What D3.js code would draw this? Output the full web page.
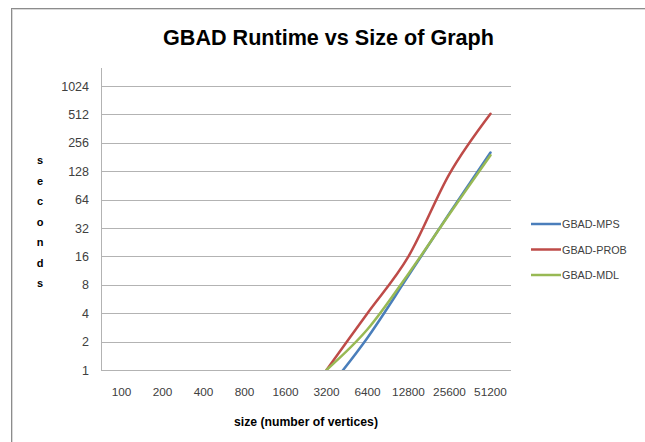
<!DOCTYPE html>
<html><head><meta charset="utf-8">
<script src="https://cdn.jsdelivr.net/npm/d3@7"></script>
<style>
body{margin:0;background:#fff;}
svg{display:block;font-family:"Liberation Sans",Arial,sans-serif;}
</style></head>
<body><svg id="chart" width="645" height="442"></svg>
<script>
const categories = ["100","200","400","800","1600","3200","6400","12800","25600","51200"];
const mps  = [null,null,null,null,null,0.6,2.2,10,46,202];
const prob = [null,null,null,null,null,1,4,16,120,520];
const mdl  = [null,null,null,null,null,1,2.7,10.5,45,189];
const yTicks = [1,2,4,8,16,32,64,128,256,512,1024];
const seriesNames = ["GBAD-MPS","GBAD-PROB","GBAD-MDL"];
const seriesColors = ["#4A7EBB","#BE4B48","#98B954"];
const yMax = 1590;

const svg = d3.select("#chart");
const W = 645, H = 442;
const m = {left:101, right:134, top:68, bottom:72};
const pw = W - m.left - m.right, ph = H - m.top - m.bottom;

// frame
svg.append("rect").attr("x",12.5).attr("y",9.5).attr("width",W).attr("height",H)
  .attr("fill","none").attr("stroke","#d9d9d9").attr("stroke-width",1);
svg.append("rect").attr("x",11.5).attr("y",8.5).attr("width",W).attr("height",H)
  .attr("fill","none").attr("stroke","#8c8c8c").attr("stroke-width",1);

const x = d3.scaleBand().domain(categories).range([0,pw]);
const y = d3.scaleLog().base(2).domain([1,yMax]).range([ph,0]);

const g = svg.append("g").attr("transform",`translate(${m.left},${m.top})`);

// gridlines
g.append("g").selectAll("line").data(yTicks).join("line")
  .attr("x1",0).attr("x2",pw)
  .attr("y1",d=>Math.round(y(d))+0.5).attr("y2",d=>Math.round(y(d))+0.5)
  .attr("stroke","#b3b3b3").attr("stroke-width",1);

// y axis
const yAxis = g.append("g").call(d3.axisLeft(y).tickValues(yTicks).tickFormat(d3.format("d")).tickSize(0).tickPadding(12));
yAxis.select(".domain").attr("stroke","#b3b3b3").attr("d",`M0.5,0V${ph}`);
yAxis.selectAll("text").attr("font-size","12.5px").attr("fill","#404040");

// x axis
const xAxis = g.append("g").attr("transform",`translate(0,${ph})`)
  .call(d3.axisBottom(x).tickSize(0).tickPadding(18));
xAxis.select(".domain").remove();
xAxis.selectAll("text").attr("font-size","11.8px").attr("fill","#404040");

// lines
const clip = svg.append("defs").append("clipPath").attr("id","pc")
  .append("rect").attr("x",0).attr("y",-5).attr("width",pw).attr("height",ph+5);
const line = d3.line()
  .defined(d=>d.v!=null)
  .x(d=>x(d.c)+x.bandwidth()/2)
  .y(d=>y(d.v))
  .curve(d3.curveCatmullRom.alpha(0));
const seriesData = [mps,prob,mdl];
const lg = g.append("g").attr("clip-path","url(#pc)");
[1,0,2].forEach(i=>{
  lg.append("path")
    .datum(categories.map((c,j)=>({c, v:seriesData[i][j]})))
    .attr("d",line).attr("fill","none")
    .attr("stroke",seriesColors[i]).attr("stroke-width",2.5)
    .attr("stroke-linecap","round").attr("stroke-linejoin","round");
});

// title
function fit(sel, target){
  const n = sel.node(); const fs = parseFloat(sel.attr("font-size"));
  const w = n.getComputedTextLength();
  sel.attr("font-size", (fs*target/w).toFixed(2)+"px");
}
const title = svg.append("text").attr("x",328.5).attr("y",45)
  .attr("text-anchor","middle").attr("font-weight","bold").attr("font-size","20px")
  .attr("fill","#000").text("GBAD Runtime vs Size of Graph");
fit(title, 331);

// x title
const xt = svg.append("text").attr("x",m.left+pw/2).attr("y",426)
  .attr("text-anchor","middle").attr("font-weight","bold").attr("font-size","11px")
  .attr("fill","#000").text("size (number of vertices)");
fit(xt, 144);

// y title (stacked letters)
const ytxt = "seconds".split("");
svg.append("g").selectAll("text").data(ytxt).join("text")
  .attr("x",40).attr("y",(d,i)=>164+i*20.5)
  .attr("text-anchor","middle").attr("font-weight","bold").attr("font-size","11px")
  .attr("fill","#000").text(d=>d);

// legend
const leg = svg.append("g");
seriesNames.forEach((n,i)=>{
  const yy = 224 + i*25.5;
  leg.append("line").attr("x1",531).attr("x2",561).attr("y1",yy).attr("y2",yy)
    .attr("stroke",seriesColors[i]).attr("stroke-width",2.5);
  leg.append("text").attr("x",562).attr("y",yy+4).attr("font-size","10.8px")
    .attr("fill","#404040").text(n);
});
</script></body></html>
